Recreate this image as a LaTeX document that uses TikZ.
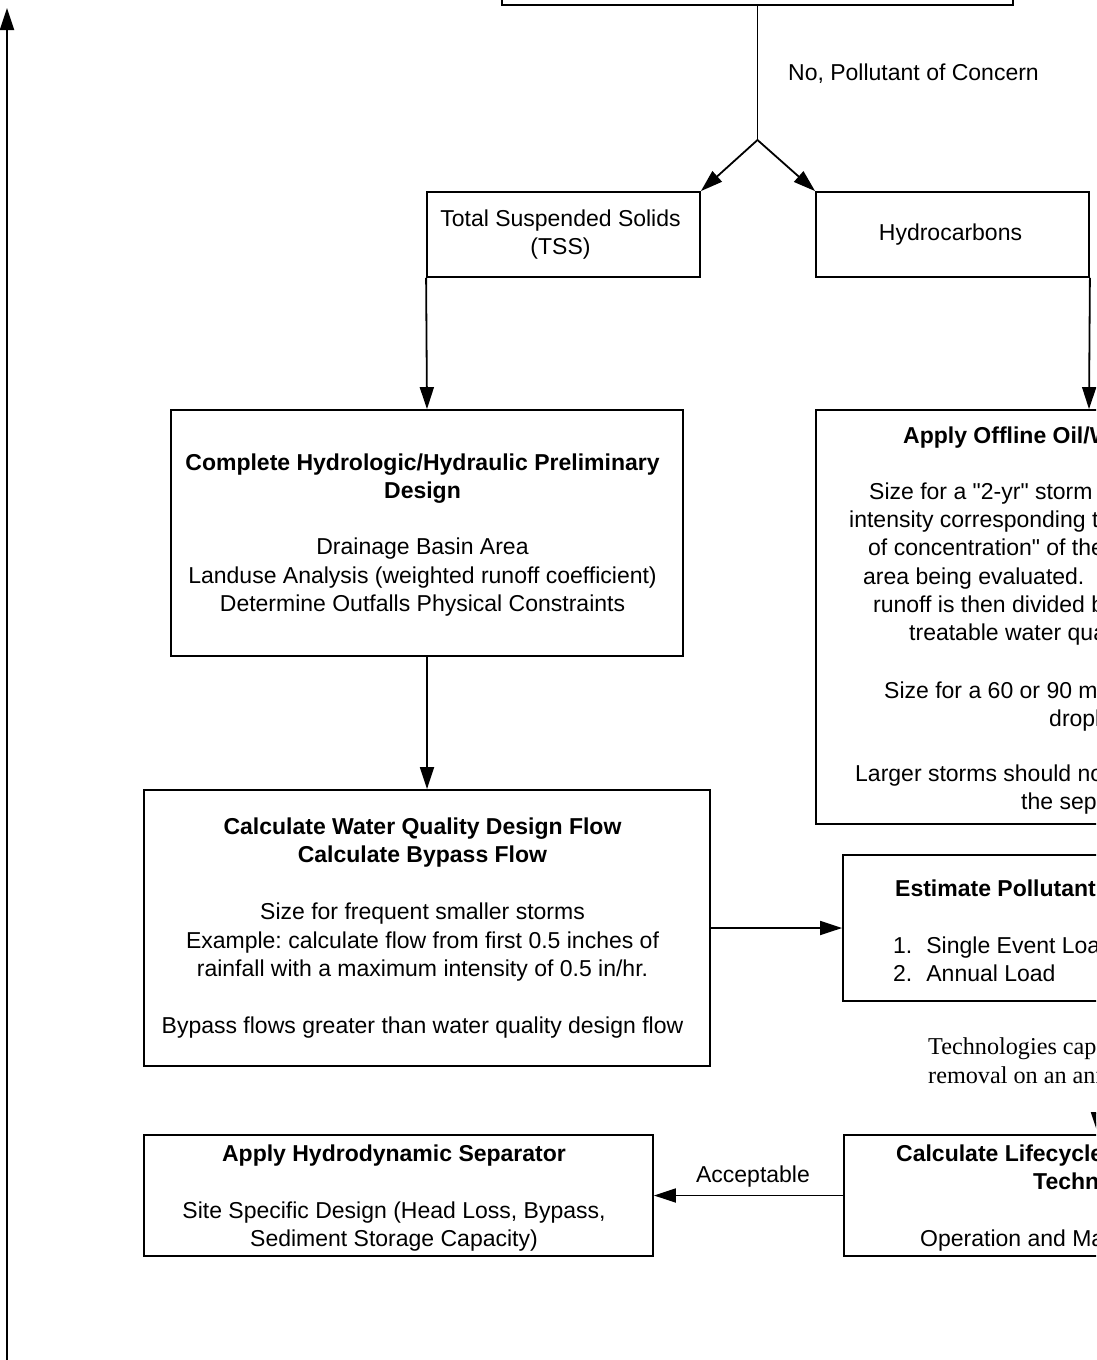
\documentclass[tikz,border=0pt]{standalone}
\usepackage{fontspec}
\setmainfont{Liberation Sans}[Ligatures=TeXOff]
\newfontfamily\timesfont{Liberation Serif}[Ligatures=TeXOff]
\usetikzlibrary{arrows.meta}
\frenchspacing
\begin{document}
\begin{tikzpicture}[x=1pt,y=-1pt,
  every node/.style={font=\fontsize{23}{28.4}\selectfont},
  box/.style={draw, line width=1.8pt, inner sep=0pt},
  btext/.style={inner sep=0pt, align=center},
  conn/.style={line width=1.8pt},
  arr/.style={line width=1.8pt, -{Triangle[length=22pt,width=14pt]}},
  txt/.style={anchor=base west, inner sep=0pt},
  serif/.style={anchor=base west, inner sep=0pt, font=\timesfont\fontsize{24.2}{28.4}\selectfont},
]
\useasboundingbox (0,0) rectangle (1096,1360);
\clip (0,0) rectangle (1096,1360);

% boxes
\node[box, minimum width=511pt, minimum height=85pt] (top) at (757.5,-37.5) {};
\node[box, minimum width=273pt, minimum height=85pt] (tss) at (563.5,234.5) {};
\node[box, minimum width=273pt, minimum height=85pt] (hyd) at (952.5,234.5) {};
\node[box, minimum width=546pt, minimum height=414pt] (offline) at (1089,617) {};
\node[box, minimum width=512pt, minimum height=246pt] (complete) at (427,533) {};
\node[box, minimum width=566pt, minimum height=276pt] (calc) at (427,928) {};
\node[box, minimum width=492pt, minimum height=146pt] (est) at (1089,928) {};
\node[box, minimum width=492pt, minimum height=121pt] (life) at (1090,1195.5) {};
\node[box, minimum width=509pt, minimum height=121pt] (hydro) at (398.5,1195.5) {};

% texts of the whole boxes
\node[btext] (tss-t) at ([xshift=-3pt]tss.center) {Total Suspended Solids\\(TSS)};
\node[btext] (hyd-t) at ([xshift=-2pt]hyd.center) {Hydrocarbons};
\node[btext] (complete-t) at ([xshift=-4.5pt,yshift=-2pt]complete.center)
  {\textbf{Complete Hydrologic/Hydraulic Preliminary}\\\textbf{Design}\\[28pt]
   Drainage Basin Area\\Landuse Analysis (weighted runoff coefficient)\\Determine Outfalls Physical Constraints};
\node[btext] (calc-t) at ([xshift=-4.5pt]calc.center)
  {\textbf{Calculate Water Quality Design Flow}\\\textbf{Calculate Bypass Flow}\\[28.4pt]
   Size for frequent smaller storms\\Example: calculate flow from first 0.5 inches of\\rainfall with a maximum intensity of 0.5 in/hr.\\[28.4pt]
   Bypass flows greater than water quality design flow};
\node[btext] (hydro-t) at ([xshift=-4.5pt,yshift=-2.5pt]hydro.center)
  {\textbf{Apply Hydrodynamic Separator}\\[28.4pt]
   Site Specific Design (Head Loss, Bypass,\\Sediment Storage Capacity)};

% texts of boxes cut by the right edge
\node[txt] (off1) at (903,443) {\textbf{Apply Offline Oil/Water Separator}};
\node[txt] (off2) at (869,499) {Size for a "2-yr" storm event with a rainfall};
\node[txt] (off3) at (849,527) {intensity corresponding to the "time};
\node[txt] (off4) at (868,555) {of concentration" of the drainage};
\node[txt] (off5) at (863,584) {area being evaluated.\ \ The resulting};
\node[txt] (off6) at (873,612) {runoff is then divided by the};
\node[txt] (off7) at (909,640) {treatable water quality flow rate.};
\node[txt] (off8) at (884,698) {Size for a 60 or 90 micron oil};
\node[txt] (off9) at (1049,726) {droplet.};
\node[txt] (off10) at (855,781) {Larger storms should not pass through};
\node[txt] (off11) at (1021,809) {the separator.};

\node[txt] (est1) at (895,896) {\textbf{Estimate Pollutant Load}};
\node[txt] (est2) at (893,953) {1.\hspace{14pt}Single Event Load};
\node[txt] (est3) at (893,981) {2.\hspace{14pt}Annual Load};

\node[serif] (tech1) at (928,1054) {Technologies capable of achieving};
\node[serif] (tech2) at (928,1083) {removal on an annual basis};

\node[txt] (life1) at (896,1161) {\textbf{Calculate Lifecycle Costs of Candidate}};
\node[txt] (life2) at (1033,1189) {\textbf{Technologies}};
\node[txt] (life3) at (920,1246) {Operation and Maintenance};

% labels
\node[txt] (lblno) at (788,80) {No, Pollutant of Concern};
\node[inner sep=0pt] (lblacc) at (753,1177) {Acceptable};

% connectors
\coordinate (split) at (757.5,140);
\draw[conn] (top.south) -- (split);
\draw[arr] (split) -- (tss.north east);
\draw[arr] (split) -- (hyd.north west);
\draw[arr] (tss.south west) -- (complete.north);
\draw[arr] (hyd.south east) -- (offline.north);
\draw[arr] (complete.south) -- (calc.north);
\draw[arr] (calc.east) -- (est.west);
\draw[arr] (life.west) -- (hydro.east);
\coordinate (lifein) at (1098,1060);
\draw[arr] (lifein) -- (lifein |- life.north);
\coordinate (loopstart) at (7,1375);
\coordinate (loopend) at (7,8);
\draw[arr] (loopstart) -- (loopend);
\end{tikzpicture}
\end{document}
